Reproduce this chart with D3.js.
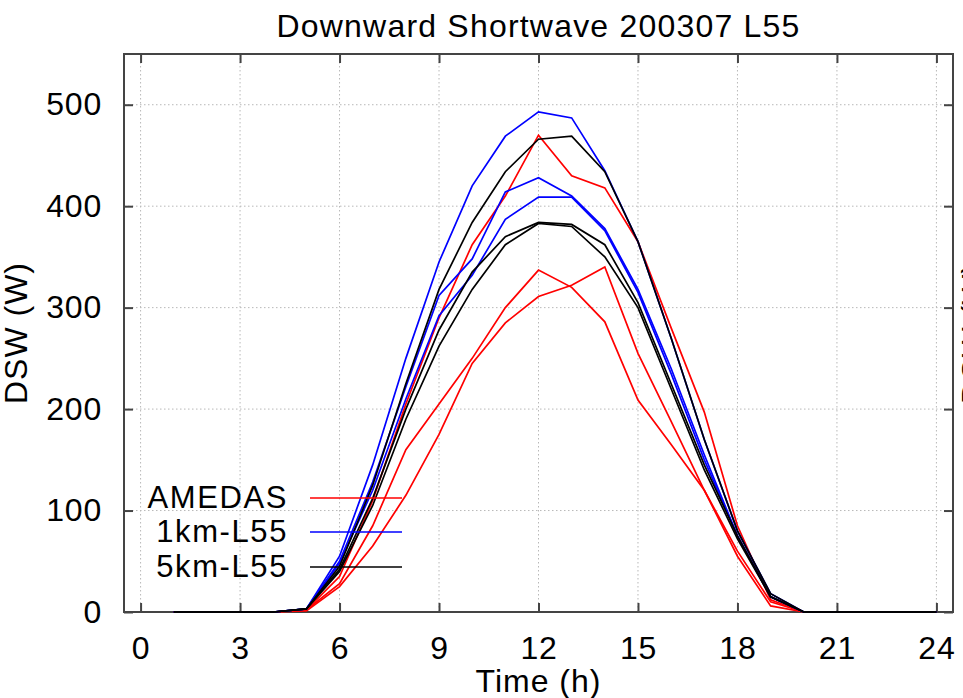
<!DOCTYPE html>
<html>
<head>
<meta charset="utf-8">
<script src="https://cdn.jsdelivr.net/npm/d3@7"></script>
<style>
  html, body { margin: 0; padding: 0; background: #fff; }
  svg { display: block; }
  text { font-family: "Liberation Sans", Arial, Helvetica, sans-serif; fill: #000; }
</style>
</head>
<body>
<svg id="chart" width="963" height="698"></svg>
<script>
// ---- data ----
const hours = [1,2,3,4,5,6,7,8,9,10,11,12,13,14,15,16,17,18,19,20,21,22,23,24];

const amedasA = [0,0,0,0,2,35,110,205,290,362,410,470,430,418,365,280,197,85,12,0,0,0,0,0];
const amedasB = [0,0,0,0,2,28,85,160,205,250,300,337,320,286,209,165,120,55,6,0,0,0,0,0];
const amedasC = [0,0,0,0,1,25,65,115,175,245,285,311,322,340,255,188,120,60,10,0,0,0,0,0];

const km1A = [0,0,0,0,3,55,145,250,345,420,469,493,487,435,365,270,170,80,18,0,0,0,0,0];
const km1B = [0,0,0,0,3,50,128,222,312,348,414,428,410,378,318,240,155,75,15,0,0,0,0,0];
const km1C = [0,0,0,0,3,48,120,210,292,332,387,409,409,376,315,235,150,75,15,0,0,0,0,0];

const km5A = [0,0,0,0,3,45,125,225,318,384,434,466,469,434,365,270,170,80,18,0,0,0,0,0];
const km5B = [0,0,0,0,3,42,112,200,278,335,370,384,382,362,305,225,145,75,15,0,0,0,0,0];
const km5C = [0,0,0,0,3,40,105,190,262,318,362,383,380,350,300,220,140,72,15,0,0,0,0,0];

const seriesNames = ["AMEDAS", "1km-L55", "5km-L55"];
const seriesColors = ["#ff0000", "#0000ff", "#000000"];
const seriesGroups = [[amedasA, amedasB, amedasC], [km1A, km1B, km1C], [km5A, km5B, km5C]];

const xTicks = [0,3,6,9,12,15,18,21,24];
const yTicks = [0,100,200,300,400,500];

const titleText = "Downward Shortwave 200307 L55";
const xLabel = "Time (h)";
const yLabel = "DSW (W)";

// ---- layout ----
const L = 124, R = 953, T = 54, B = 612;
const svg = d3.select("#chart");
const x = d3.scaleLinear().domain([-0.5, 24.5]).range([L, R]);
const y = d3.scaleLinear().domain([0, 550]).range([B, T]);

const frameColor = "#444";

// grid
const grid = svg.append("g");
grid.selectAll("line.gx").data(xTicks).enter().append("line")
  .attr("x1", d => x(d)).attr("x2", d => x(d)).attr("y1", T).attr("y2", B)
  .attr("stroke", "#b8b8b8").attr("stroke-width", 1).attr("stroke-dasharray", "1.5,2.5");
grid.selectAll("line.gy").data(yTicks).enter().append("line")
  .attr("x1", L).attr("x2", R).attr("y1", d => y(d)).attr("y2", d => y(d))
  .attr("stroke", "#b8b8b8").attr("stroke-width", 1).attr("stroke-dasharray", "1.5,2.5");

// axes
function styleAxis(g) {
  g.select(".domain").remove();
  g.selectAll(".tick line").attr("stroke", frameColor).attr("stroke-width", 2);
  g.selectAll(".tick text").style("font-size", "32px").style("letter-spacing", "0.8px").attr("fill", "#000");
}
svg.append("g").attr("transform", `translate(0,${B})`)
  .call(d3.axisBottom(x).tickValues(xTicks).tickSize(-9).tickPadding(24).tickFormat(d3.format("d")))
  .call(styleAxis);
svg.append("g").attr("transform", `translate(0,${T})`)
  .call(d3.axisTop(x).tickValues(xTicks).tickSize(-9).tickFormat(""))
  .call(styleAxis);
svg.append("g").attr("transform", `translate(${L},0)`)
  .call(d3.axisLeft(y).tickValues(yTicks).tickSize(-9).tickPadding(22).tickFormat(d3.format("d")))
  .call(styleAxis);
svg.append("g").attr("transform", `translate(${R},0)`)
  .call(d3.axisRight(y).tickValues(yTicks).tickSize(-9).tickFormat(""))
  .call(styleAxis);

// frame
svg.append("rect").attr("x", L).attr("y", T).attr("width", R - L).attr("height", B - T)
  .attr("fill", "none").attr("stroke", frameColor).attr("stroke-width", 2);

// lines
const line = d3.line().x((d, i) => x(hours[i])).y(d => y(d));
seriesGroups.forEach((group, si) => {
  group.forEach(vals => {
    svg.append("path").datum(vals).attr("d", line)
      .attr("fill", "none").attr("stroke", seriesColors[si]).attr("stroke-width", 1.7)
      .attr("stroke-linejoin", "miter");
  });
});

// legend
const legY = [498, 532, 567];
seriesNames.forEach((name, i) => {
  svg.append("text").attr("x", 288).attr("y", legY[i] + 10).attr("text-anchor", "end")
    .style("font-size", "31px").style("letter-spacing", "1.6px").text(name);
  svg.append("line").attr("x1", 310).attr("x2", 402).attr("y1", legY[i]).attr("y2", legY[i])
    .attr("stroke", seriesColors[i]).attr("stroke-width", 1.5);
});

// titles
svg.append("text").attr("x", (L + R) / 2).attr("y", 37).attr("text-anchor", "middle")
  .style("font-size", "32px").style("letter-spacing", "1.2px").text(titleText);
svg.append("text").attr("x", (L + R) / 2).attr("y", 692).attr("text-anchor", "middle")
  .style("font-size", "32px").style("letter-spacing", "1px").text(xLabel);
svg.append("text").attr("transform", `translate(27,${(T + B) / 2}) rotate(-90)`)
  .attr("text-anchor", "middle").style("font-size", "32px").style("letter-spacing", "1px").text(yLabel);
// partially visible label of a neighbouring panel at the right edge
svg.append("text").attr("transform", `translate(984,${(T + B) / 2}) rotate(-90)`)
  .attr("text-anchor", "middle").style("font-size", "32px").style("letter-spacing", "1px").text(yLabel);
</script>
</body>
</html>
